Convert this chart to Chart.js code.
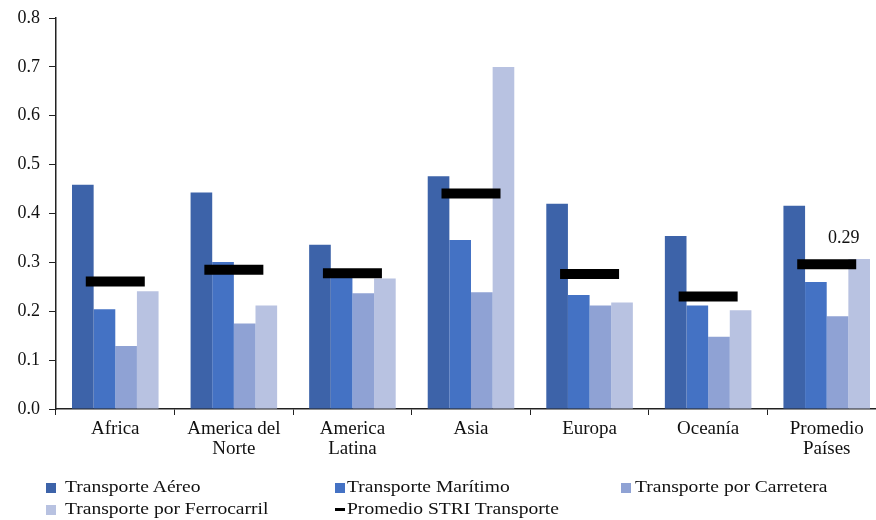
<!DOCTYPE html>
<html>
<head>
<meta charset="utf-8">
<script src="https://cdn.jsdelivr.net/npm/chart.js@4.4.1/dist/chart.umd.min.js"></script>
<style>
  html, body { margin: 0; padding: 0; background: #fff; overflow: hidden; width: 876px; height: 520px; }
  .wrap { position: absolute; left: 0; top: 0; width: 886px; height: 470px; }
  .legend { position: absolute; left: 0; top: 0; width: 876px; height: 520px; pointer-events: none;
    font-family: 'Liberation Serif', 'Times New Roman', serif; font-size: 17px; color: #111; }
  .legend-item { position: absolute; white-space: nowrap; line-height: 20px; }
  .legend-item .sw { position: absolute; width: 10px; height: 10px; top: 6px; }
  .legend-item .dash { position: absolute; width: 10px; height: 3px; top: 9px; background: #000; }
  .legend-item .txt { display: inline-block; transform: scaleX(1.15); transform-origin: left center; }
</style>
</head>
<body>
<div class="wrap"><canvas id="chart" width="886" height="470"></canvas></div>
<div class="legend" id="legend"></div>
<script>
const categories = [['Africa'], ['America del', 'Norte'], ['America', 'Latina'], ['Asia'], ['Europa'], ['Oceanía'], ['Promedio', 'Países']]
const aereo = [0.459, 0.443, 0.336, 0.476, 0.420, 0.354, 0.416]
const maritimo = [0.204, 0.301, 0.270, 0.346, 0.233, 0.212, 0.260]
const carretera = [0.129, 0.175, 0.237, 0.239, 0.212, 0.148, 0.190]
const ferrocarril = [0.241, 0.212, 0.267, 0.700, 0.218, 0.202, 0.307]
const promedioSTRI = [0.261, 0.285, 0.278, 0.441, 0.276, 0.230, 0.296]
const yTicks = [0, 0.1, 0.2, 0.3, 0.4, 0.5, 0.6, 0.7, 0.8]
const shownLabel = { index: 6, text: '0.29' }

const colors = {
  aereo: '#3d63a9',
  maritimo: '#4472c4',
  carretera: '#8fa2d4',
  ferrocarril: '#b8c2e1',
  stri: '#000000',
}
const serif = "'Liberation Serif', 'Times New Roman', serif"

// line controller whose wide markers do not push the chart area inwards
class MarkController extends Chart.LineController {
  getMaxOverflow() { return 0 }
}
MarkController.id = 'mark'
MarkController.defaults = Chart.LineController.defaults
Chart.register(MarkController)

const legendItems = [
  { label: 'Transporte Aéreo', color: colors.aereo, x: 46, y: 477, tx: 19 },
  { label: 'Transporte Marítimo', color: colors.maritimo, x: 335, y: 477, tx: 12 },
  { label: 'Transporte por Carretera', color: colors.carretera, x: 621, y: 477, tx: 14 },
  { label: 'Transporte por Ferrocarril', color: colors.ferrocarril, x: 46, y: 499, tx: 19 },
  { label: 'Promedio STRI Transporte', color: colors.stri, x: 335, y: 499, tx: 12, line: true },
]

function buildLegend() {
  const el = document.getElementById('legend')
  legendItems.forEach((it) => {
    const d = document.createElement('div')
    d.className = 'legend-item'
    d.style.left = it.x + 'px'
    d.style.top = it.y + 'px'
    const sw = document.createElement('span')
    sw.className = it.line ? 'dash' : 'sw'
    sw.style.left = '0px'
    if (!it.line) sw.style.background = it.color
    d.appendChild(sw)
    const t = document.createElement('span')
    t.className = 'txt'
    t.style.marginLeft = it.tx + 'px'
    t.textContent = it.label
    d.appendChild(t)
    el.appendChild(d)
  })
}

const valueLabel = {
  id: 'valueLabel',
  afterDatasetsDraw(chart) {
    const meta = chart.getDatasetMeta(4)
    const pt = meta.data[shownLabel.index]
    if (!pt) return
    const ctx = chart.ctx
    ctx.save()
    ctx.font = `18px ${serif}`
    ctx.fillStyle = '#111'
    ctx.textAlign = 'center'
    ctx.textBaseline = 'middle'
    ctx.fillText(shownLabel.text, pt.x + 17, pt.y - 26)
    ctx.restore()
  },
}

const barCommon = { categoryPercentage: 0.73, barPercentage: 1.0, borderWidth: 0, order: 1 }

const data = {
  labels: categories,
  datasets: [
    { label: 'Transporte Aéreo', data: aereo, backgroundColor: colors.aereo, ...barCommon },
    { label: 'Transporte Marítimo', data: maritimo, backgroundColor: colors.maritimo, ...barCommon },
    { label: 'Transporte por Carretera', data: carretera, backgroundColor: colors.carretera, ...barCommon },
    { label: 'Transporte por Ferrocarril', data: ferrocarril, backgroundColor: colors.ferrocarril, ...barCommon },
    {
      type: 'mark',
      label: 'Promedio STRI Transporte',
      data: promedioSTRI,
      showLine: false,
      pointStyle: 'line',
      pointRadius: 29.5,
      pointHoverRadius: 29.5,
      pointBorderWidth: 10,
      pointBorderColor: colors.stri,
      pointBackgroundColor: colors.stri,
      order: 0,
    },
  ],
}

const options = {
  responsive: false,
  animation: false,
  layout: { padding: { top: 18, right: 0, bottom: 0, left: 0 } },
  plugins: {
    legend: { display: false },
    tooltip: { enabled: false },
  },
  scales: {
    x: {
      grid: { display: true, drawOnChartArea: false, offset: true, tickLength: 6, color: '#222', lineWidth: 1 },
      border: { display: true, color: '#222', width: 1.5 },
      ticks: { color: '#111', font: { family: serif, size: 19, lineHeight: 1.05 }, padding: 4, maxRotation: 0, autoSkip: false },
      afterFit: (scale) => {
        scale.height = 61
        scale.paddingLeft = 0
        scale.paddingRight = 0
      },
    },
    y: {
      min: 0,
      max: 0.8,
      afterBuildTicks: (scale) => { scale.ticks = yTicks.map((v) => ({ value: v })) },
      grid: { display: true, drawOnChartArea: false, tickLength: 7, color: '#222', lineWidth: 1 },
      border: { display: true, color: '#222', width: 1.5 },
      ticks: {
        color: '#111',
        font: { family: serif, size: 18 },
        padding: 9,
        callback: (v) => Number(v).toFixed(1),
      },
      afterFit: (scale) => {
        scale.width = 56
        scale.paddingTop = 0
        scale.paddingBottom = 0
      },
    },
  },
}

buildLegend()
new Chart(document.getElementById('chart'), { type: 'bar', data, options, plugins: [valueLabel] })
</script>
</body>
</html>
